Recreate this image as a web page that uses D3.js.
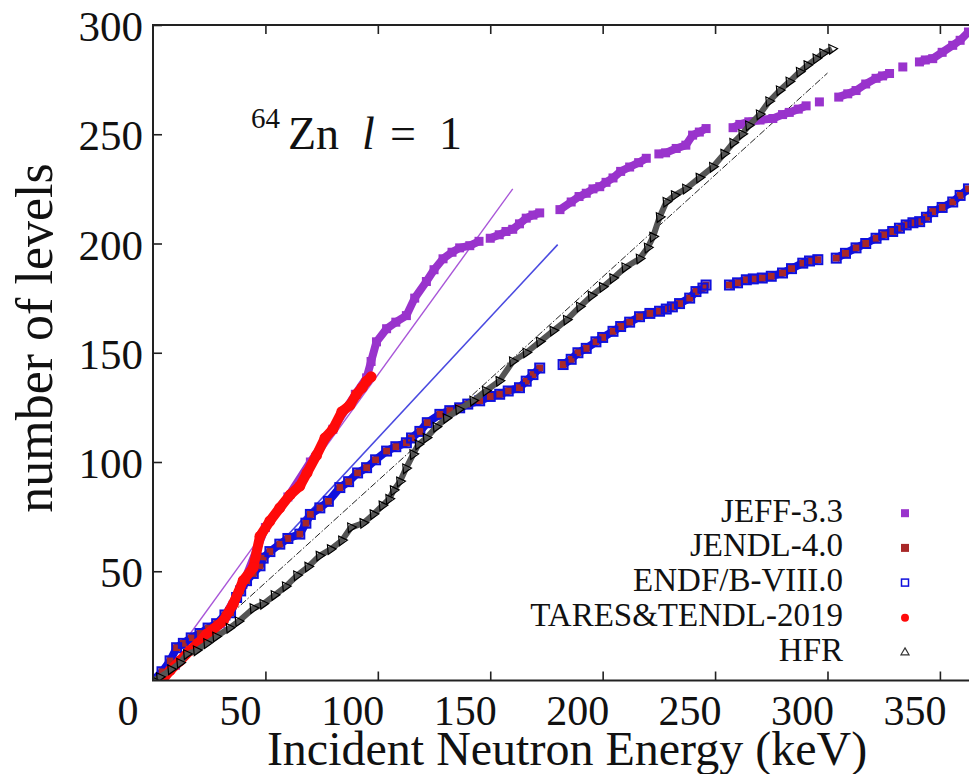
<!DOCTYPE html>
<html>
<head>
<meta charset="utf-8">
<script src="https://cdn.jsdelivr.net/npm/d3@7"></script>
<style>
  html, body { margin: 0; padding: 0; background: #fff; }
  svg { display: block; }
  text { font-family: "Liberation Serif", "Times New Roman", serif; fill: #111; }
</style>
</head>
<body>
<script>
// ---------------- data (energy keV, cumulative number of levels); null = gap ----------------
const xTicks = [0, 50, 100, 150, 200, 250, 300, 350];
const yTicks = [50, 100, 150, 200, 250, 300];

const jeff = [[0,0],[10,7],[20,17],[30,26],[40,44],[50,70],[60,84],[70,100],[80,115],[90,131],
  [95,138.5],[97,146],[99.4,155],[103.9,161],[108,164],[112.7,167],[116.4,175],[121.6,182.6],[125,188],
  [129,193],[133,196],[136.4,198],[140.9,199],[145,201],null,
  [150,202.4],[154,204],[157,205.5],[160,206.5],[163,209],[166,211.6],[169,213],[172,214],null,
  [181,215.5],[186,219],[189.5,221.5],[192.7,223],[195.7,225],[198.7,226],[201.5,228],[204.6,230],[208,233],[212,235],[216,237],[219.4,239],null,
  [225,241],[228,241.5],[232.7,243.5],[237,245],[240,249.6],[243,251],[246,252.6],null,
  [258,253],[261,254.5],[265,255.7],[270,256.5],[275.7,257.2],[280,259],[283,260],[287,261.5],[290.5,263],null,
  [296.4,264.8],null,
  [305,267],[309,268.5],[312.7,270],[317,273],[321.6,275.6],[324.5,276.7],[327.6,277.8],null,
  [333.5,280.8],null,
  [340.9,283.1],[343.5,284],[346.8,284.6],[351,287.5],[355.7,290.7],[359,293],[362.7,296.8]];

const jendl = [[0,0],[4,4],[7.6,9],[10.5,15],[13.5,17],[17,19.5],[20.9,21.5],[24.5,24],[28.3,26],[32,30],
  [34.5,31],[37.2,38],[39,41],[41.6,45.7],[44.6,49],[47.6,52.5],[49,56],[52,59],[56.4,62.4],[60,65],
  [65.3,67],[68,72],[70,76],[74.2,79],[78,82],[83.1,88.3],[87,91],[91,95],[95,97.4],[99,101],
  [103.9,105],[108,107],[112.7,108.8],[115,111],[118.7,114],[122,118],[127.6,121.8],[132,123.5],
  [136.4,124.8],[140,126.5],[145.3,128],[150,130],[154.2,131],[158,132.5],[163,134],[166,137],
  [169,140],[172,143],null,
  [182.4,144.6],[186,147],[189,150],[192.7,152],[197,155],[200,157],[204.6,159.8],[208,162],
  [212,164],[216.4,166.5],[221,168],[225.3,169],[228.3,170],[231,171],[234.2,172.5],[238.7,175],
  [241.5,178],[244.6,179.6],[246,181],null,
  [256.4,181],[260,182],[263.9,183.4],[267,183.8],[271,184.2],[275,185],[280,186.5],[284,188.5],
  [289,191],[292,192],[295.7,192.6],null,
  [303.9,193.3],[308,195.5],[312.7,198],[317,200],[321.6,202.4],[325,204],[329,205.5],[332,207],
  [335,208.5],[338,209.5],[341,210],[344,212],[346.8,214.6],[351,216.5],[355.7,219],[359,222],[362.7,225]];

const endf = jendl.map(d => d && [d[0], d[1]]);

const tares = [[4,0],[7.6,4.6],[12,9],[16.4,13.7],[20,17],[23.9,21.3],[27.5,24],[31.3,27.4],[35.7,35],
  [40.1,45.7],[44.6,51.7],[47.6,66],[52,73],[56.4,79],[61,85],[65.3,89],[68.5,95],[72.7,103],
  [76.5,111],[80,115],[84,123],[87.6,126],[90.5,131],[93,134],[95,137],[97,139]];

const hfr = [[0,0],[3,1.5],[8,5],[12,8],[15,12],[19.4,13.7],[24,17],[28,20],[34,24],[38,27],[44.6,33],
  [49,35],[54,39],[59,43],[64,48],[69,52],[74,57],[79,60],[84,64],[88,70],[93.5,72],[98,76],[102,80],
  [105,83],[107,87],[109.8,91],[112.5,97],[115.7,103.5],[118,108],[121.6,111],[126,116],[130.5,120],
  [136,124],[142.4,128],[148,132.5],[154,137],[160,146],[166,150],[172,155],[178,160],[184,165],
  [189.8,171],[195,176],[200,180],[204.6,184],[210,189],[216.4,193],[220,198],[222.4,203],[225.3,212],
  [228.3,219],[232,222],[237,225],[243,230],[249,235],[254,241],[258,246],[262,250],[265,254],
  [269.8,259],[274,265],[278.7,270],[283,274],[287.6,278.5],[291,281.5],[295,284.6],[298,287],[302,289]];

// straight-line fits
const fitJeff = [[12, 15], [160, 225]];
const fitEndf = [[40, 44.5], [180, 199.5]];
const fitHfr  = [[2, 0], [300, 278]];

const legendLabels = ["JEFF-3.3", "JENDL-4.0", "ENDF/B-VIII.0", "TARES&TENDL-2019", "HFR"];

// ---------------- drawing ----------------
const W = 969, H = 774;
const colJeff = "#9933cc", colJendl = "#a82828", colEndf = "#1010dd", colTares = "#ff0a0a", colHfr = "#000";

const svg = d3.select("body").append("svg").attr("width", W).attr("height", H);

const x = d3.scaleLinear().domain([0, 370]).range([153, 153 + 370 * 2.2483]);
const y = d3.scaleLinear().domain([0, 300]).range([680.5, 25]);

svg.append("clipPath").attr("id", "clip").append("rect")
  .attr("x", 153).attr("y", 25).attr("width", W - 153 + 40).attr("height", 680.5 - 25);

const plot = svg.append("g").attr("clip-path", "url(#clip)");
const line = d3.line().defined(d => d !== null).x(d => x(d[0])).y(d => y(d[1]));

// fit lines
plot.append("path").attr("d", line(fitJeff)).attr("fill", "none").attr("stroke", "#a855d8").attr("stroke-width", 1.4);
plot.append("path").attr("d", line(fitEndf)).attr("fill", "none").attr("stroke", "#4a4ae0").attr("stroke-width", 1.6);
plot.append("path").attr("d", line(fitHfr)).attr("fill", "none").attr("stroke", "#222")
  .attr("stroke-width", 1).attr("stroke-dasharray", "7,2,1.5,2");

// JEFF-3.3
plot.append("path").attr("d", line(jeff)).attr("fill", "none").attr("stroke", colJeff)
  .attr("stroke-width", 8).attr("stroke-linejoin", "round");
plot.append("g").selectAll("rect").data(jeff.filter(d => d)).join("rect")
  .attr("x", d => x(d[0]) - 4.5).attr("y", d => y(d[1]) - 4.5)
  .attr("width", 9).attr("height", 9).attr("fill", colJeff);

// ENDF band + JENDL fill + ENDF open squares
plot.append("path").attr("d", line(endf)).attr("fill", "none").attr("stroke", colEndf)
  .attr("stroke-width", 8).attr("stroke-linejoin", "round");
plot.append("g").selectAll("rect").data(jendl.filter(d => d)).join("rect")
  .attr("x", d => x(d[0]) - 3.5).attr("y", d => y(d[1]) - 3.5)
  .attr("width", 7).attr("height", 7).attr("fill", colJendl);
plot.append("g").selectAll("rect").data(endf.filter(d => d)).join("rect")
  .attr("x", d => x(d[0]) - 4.5).attr("y", d => y(d[1]) - 4.5)
  .attr("width", 9).attr("height", 9).attr("fill", "none").attr("stroke", colEndf).attr("stroke-width", 2);

// TARES & TENDL
plot.append("path").attr("d", line(tares)).attr("fill", "none").attr("stroke", colTares)
  .attr("stroke-width", 10).attr("stroke-linejoin", "round");
plot.append("g").selectAll("circle").data(tares).join("circle")
  .attr("cx", d => x(d[0])).attr("cy", d => y(d[1])).attr("r", 5.5).attr("fill", colTares);

// HFR
plot.append("path").attr("d", line(hfr)).attr("fill", "none").attr("stroke", "#555")
  .attr("stroke-width", 6).attr("stroke-linejoin", "round");
const tri = d3.symbol().type(d3.symbolTriangle).size(40);
plot.append("g").selectAll("path").data(hfr).join("path")
  .attr("d", tri).attr("transform", d => `translate(${x(d[0])},${y(d[1])}) rotate(-35)`)
  .attr("fill", "none").attr("stroke", colHfr).attr("stroke-width", 1.2);

// ---------------- axes ----------------
const axStyle = g => { g.select(".domain").remove(); g.selectAll("line").attr("stroke", "#222").attr("stroke-width", 1.6); };
svg.append("g").attr("transform", "translate(0,680.5)")
  .call(d3.axisBottom(x).tickValues(xTicks.slice(1)).tickSizeInner(-9).tickSizeOuter(0).tickFormat(() => ""))
  .call(axStyle);
svg.append("g").attr("transform", "translate(0,25)")
  .call(d3.axisTop(x).tickValues(xTicks.slice(1)).tickSizeInner(-9).tickSizeOuter(0).tickFormat(() => ""))
  .call(axStyle);
svg.append("g").attr("transform", "translate(153,0)")
  .call(d3.axisLeft(y).tickValues(yTicks).tickSizeInner(-9).tickSizeOuter(0).tickFormat(() => ""))
  .call(axStyle);

// frame
svg.append("path").attr("d", `M${W + 5},25 H153 V680.5 H${W + 5}`)
  .attr("fill", "none").attr("stroke", "#222").attr("stroke-width", 2);

// tick labels
svg.append("g").selectAll("text").data(xTicks).join("text")
  .attr("x", d => x(d) - 25).attr("y", 725).attr("text-anchor", "middle")
  .attr("font-size", 42).text(d => d);
svg.append("g").selectAll("text").data(yTicks).join("text")
  .attr("x", 143).attr("y", d => y(d) + 16).attr("text-anchor", "end")
  .attr("font-size", 43).text(d => d);

// axis titles
svg.append("text").attr("x", 567).attr("y", 765).attr("text-anchor", "middle")
  .attr("font-size", 48).text("Incident Neutron Energy (keV)");
svg.append("text").attr("transform", "translate(52,338) rotate(-90)").attr("text-anchor", "middle")
  .attr("font-size", 52).text("number of levels");

// annotation
const ann = svg.append("g").attr("font-size", 46);
ann.append("text").attr("x", 251).attr("y", 128).attr("font-size", 29).text("64");
ann.append("text").attr("x", 288).attr("y", 149).text("Zn");
ann.append("text").attr("x", 362).attr("y", 149).attr("font-style", "italic").text("l");
ann.append("text").attr("x", 390).attr("y", 149).text("=");
ann.append("text").attr("x", 439).attr("y", 149).text("1");

// legend
const lg = svg.append("g");
const lgY = i => 521.7 + i * 34.7;
lg.selectAll("text").data(legendLabels).join("text")
  .attr("x", 843).attr("y", (d, i) => lgY(i)).attr("text-anchor", "end").attr("font-size", 33).text(d => d);
const mx = 905;
lg.append("rect").attr("x", mx - 4).attr("y", lgY(0) - 12.5).attr("width", 8).attr("height", 8).attr("fill", colJeff);
lg.append("rect").attr("x", mx - 4).attr("y", lgY(1) - 12.5).attr("width", 8).attr("height", 8).attr("fill", colJendl);
lg.append("rect").attr("x", mx - 3.5).attr("y", lgY(2) - 12).attr("width", 7).attr("height", 7)
  .attr("fill", "none").attr("stroke", colEndf).attr("stroke-width", 1.5);
lg.append("circle").attr("cx", mx).attr("cy", lgY(3) - 8).attr("r", 4).attr("fill", colTares);
lg.append("path").attr("d", d3.symbol().type(d3.symbolTriangle).size(28))
  .attr("transform", `translate(${mx},${lgY(4) - 8})`).attr("fill", "none").attr("stroke", "#333").attr("stroke-width", 1.2);
</script>
</body>
</html>
